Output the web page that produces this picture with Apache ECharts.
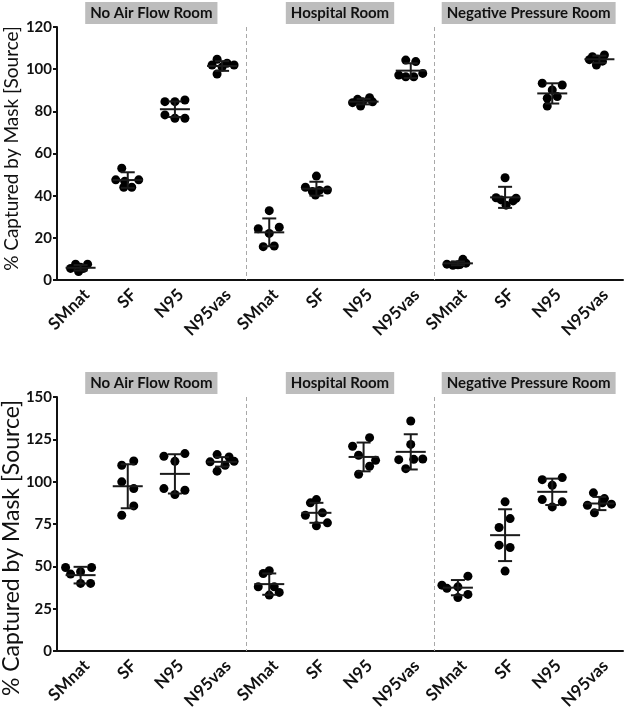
<!DOCTYPE html>
<html><head><meta charset="utf-8">
<script src="https://cdn.jsdelivr.net/npm/echarts@6/dist/echarts.min.js"></script>
<style>html,body{margin:0;padding:0;background:#fff}#c{width:627px;height:711px}</style>
</head><body><div id="c"></div>
<script>
// ---------- data ----------
const masks = ['SMnat', 'SF', 'N95', 'N95vas'];
const rooms = ['No Air Flow Room', 'Hospital Room', 'Negative Pressure Room'];
const categories = rooms.flatMap(() => masks);
const yLabel = '% Captured by Mask [Source]';
const topTicks = { min: 0, max: 120, interval: 20 };
const bottomTicks = { min: 0, max: 150, interval: 25 };

// top panel: individual replicate values per category
const topValues = [
  [5.5, 7.5, 4.0, 5.5, 7.5, 6.0],
  [53.0, 47.5, 46.8, 47.5, 44.0, 44.0],
  [84.6, 84.6, 85.4, 78.3, 76.7, 76.7],
  [102.0, 104.7, 102.8, 102.0, 97.7, 101.0],
  [32.9, 24.3, 25.0, 22.1, 15.8, 16.1],
  [49.3, 44.0, 42.0, 42.5, 42.7, 40.3],
  [85.7, 86.5, 84.6, 84.1, 82.5, 84.5],
  [104.3, 103.6, 97.2, 96.4, 96.4, 98.0],
  [7.5, 7.0, 7.2, 8.0, 9.8, 7.3],
  [48.5, 39.0, 38.0, 35.5, 37.5, 38.8],
  [93.3, 92.5, 90.1, 86.2, 87.0, 82.5],
  [105.9, 106.7, 104.7, 104.5, 102.0, 103.8]
];
const topMean = [5.8, 47.4, 81.0, 101.5, 22.6, 43.3, 84.6, 99.3, 7.9, 39.2, 88.5, 104.7];
const topSD   = [1.3, 3.7, 3.7, 2.3, 6.6, 3.3, 1.3, 3.5, 0.9, 5.0, 4.8, 1.7];

// bottom panel
const bottomValues = [
  [49.3, 49.3, 45.4, 46.8, 39.9, 39.9],
  [112.2, 109.7, 99.9, 95.9, 85.7, 80.2],
  [116.6, 115.0, 112.0, 95.9, 94.9, 92.4],
  [116.0, 114.6, 111.7, 112.0, 109.7, 106.2],
  [47.4, 45.8, 37.9, 37.9, 34.6, 33.0],
  [89.4, 87.5, 80.2, 81.6, 75.7, 73.9],
  [126.0, 120.9, 115.6, 112.6, 109.1, 104.4],
  [135.8, 122.0, 113.0, 113.2, 113.4, 107.7],
  [44.2, 38.9, 37.0, 37.9, 31.6, 33.4],
  [88.1, 78.2, 72.9, 61.1, 62.5, 47.2],
  [101.2, 102.4, 97.9, 89.4, 88.1, 85.1],
  [93.4, 90.0, 86.1, 86.7, 87.5, 81.6]
];
const bottomMean = [44.8, 97.3, 104.6, 111.7, 39.5, 81.6, 114.6, 117.6, 37.4, 68.4, 94.0, 87.1];
const bottomSD   = [4.9, 13.0, 11.6, 2.8, 6.3, 5.9, 8.5, 10.4, 4.5, 15.3, 7.8, 3.9];

// ---------- layout / style (horizontal jitter of dots, px) ----------
const jitterTop = [
  [-10, -5, -2, 3, 7, 0],
  [-6, -12, -3, 11, -4, 4],
  [-10, 0, 10, -10, 0, 10],
  [-10, -5, 5, 12, -5, 0],
  [0, -11, 10, 0, -6, 5],
  [0, -11, -4, 3, 11, -1],
  [-6, 6, -1, -11, -3, 9],
  [-5, 5, -12, -5, 3, 12],
  [-11, -5, 0, 8, 5, 2],
  [0, -9, -4, 1, 8, 11],
  [-10, 10, 0, -5, 5, -5],
  [-7, 5, -2, -10, -3, 3]
];
const jitterBottom = [
  [-15, 11, -10, 0, 0, 10],
  [6, -6, -6, 6, 6, -6],
  [10, -11, 0, -11, 10, 0],
  [-5, 7, -12, 12, 3, -5],
  [0, -6, -11, 5, 10, 0],
  [0, -6, -11, 6, 11, 0],
  [6, -11, -5, 12, 6, -5],
  [0, 0, -12, 3, 12, -5],
  [10, -16, -11, 0, 0, 10],
  [0, 5, -6, 5, -6, 0],
  [-10, 10, 0, -10, 10, 0],
  [-6, 5, -12, 12, 3, -5]
];

const FONT = 'Lato, "Open Sans", sans-serif';
const INK = '#111';

function scatterData(values, jitter) {
  const out = [];
  values.forEach((arr, i) => arr.forEach((v, j) => {
    out.push({ value: [i, v], symbolOffset: [jitter[i][j], 0] });
  }));
  return out;
}
function errData(mean, sd) {
  return mean.map((m, i) => [i, m, sd[i]]);
}
function errRender(params, api) {
  const x = api.value(0), m = api.value(1), s = api.value(2);
  const pm = api.coord([x, m]);
  const pt = api.coord([x, m + s]);
  const pb = api.coord([x, m - s]);
  const st = { stroke: '#1a1a1a', lineWidth: 2 };
  return {
    type: 'group',
    children: [
      { type: 'line', shape: { x1: pm[0] - 15, y1: pm[1], x2: pm[0] + 15, y2: pm[1] }, style: st },
      { type: 'line', shape: { x1: pt[0], y1: pt[1], x2: pb[0], y2: pb[1] }, style: st },
      { type: 'line', shape: { x1: pt[0] - 7, y1: pt[1], x2: pt[0] + 7, y2: pt[1] }, style: st },
      { type: 'line', shape: { x1: pb[0] - 7, y1: pb[1], x2: pb[0] + 7, y2: pb[1] }, style: st }
    ]
  };
}
const groupData = rooms.map((r, k) => [k * masks.length, k * masks.length + masks.length - 1, 0]);
function groupRender(params, api) {
  const a = api.value(0), b = api.value(1);
  const ca = api.coord([a, 0]), cb = api.coord([b, 0]);
  const cs = params.coordSys;
  const cx = (ca[0] + cb[0]) / 2;
  const children = [{
    type: 'text',
    style: {
      text: rooms[params.dataIndex], x: cx, y: cs.y - 3,
      align: 'center', verticalAlign: 'bottom',
      font: 'bold 15px ' + FONT, fill: INK,
      backgroundColor: '#bdbdbd', padding: [4, 5, 3, 5]
    }
  }];
  if (a > 0) {
    const cp = api.coord([a - 1, 0]);
    const sx = Math.round((cp[0] + ca[0]) / 2) + 0.5;
    children.push({
      type: 'line',
      shape: { x1: sx, y1: cs.y, x2: sx, y2: cs.y + cs.height },
      style: { stroke: '#a8a8a8', lineWidth: 1, lineDash: [4, 3] }
    });
  }
  return { type: 'group', children };
}

function xAxis(gi) {
  return {
    type: 'category', gridIndex: gi, data: categories, boundaryGap: true,
    axisLine: { lineStyle: { color: INK, width: 2 } },
    axisTick: { alignWithLabel: true, length: 5, lineStyle: { color: INK, width: 2 } },
    axisLabel: { interval: 0, rotate: 45, margin: 6, verticalAlign: 'top', color: INK, fontWeight: 'bold', fontSize: 17, fontFamily: FONT },
    splitLine: { show: false }
  };
}
function yAxis(gi, t, nameSize, nameGap, namePad) {
  return {
    type: 'value', gridIndex: gi, min: t.min, max: t.max, interval: t.interval,
    name: yLabel, nameLocation: 'middle', nameGap: nameGap, nameMoveOverlap: false,
    nameTextStyle: { fontSize: nameSize, color: INK, fontFamily: FONT, padding: namePad },
    axisLine: { show: true, lineStyle: { color: INK, width: 2 } },
    axisTick: { show: true, length: 4, lineStyle: { color: INK, width: 2 } },
    axisLabel: { margin: 5, color: INK, fontWeight: 'bold', fontSize: 15, fontFamily: FONT },
    splitLine: { show: false }
  };
}

const chart = echarts.init(document.getElementById('c'), null, { renderer: 'canvas' });
chart.setOption({
  animation: false,
  backgroundColor: '#fff',
  grid: [
    { left: 57, right: 4, top: 27, height: 253, containLabel: false, outerBoundsMode: 'none' },
    { left: 57, right: 4, top: 397, height: 254, containLabel: false, outerBoundsMode: 'none' }
  ],
  xAxis: [xAxis(0), xAxis(1)],
  yAxis: [
    yAxis(0, topTicks, 19, 36, [0, 0, 0, 10]),
    yAxis(1, bottomTicks, 23, 34, [0, 48, 0, 0])
  ],
  series: [
    { type: 'custom', xAxisIndex: 0, yAxisIndex: 0, data: groupData, renderItem: groupRender, clip: false, encode: { x: [0, 1], y: 2 }, z: 1, silent: true },
    { type: 'custom', xAxisIndex: 1, yAxisIndex: 1, data: groupData, renderItem: groupRender, clip: false, encode: { x: [0, 1], y: 2 }, z: 1, silent: true },
    { type: 'scatter', xAxisIndex: 0, yAxisIndex: 0, data: scatterData(topValues, jitterTop), symbolSize: 9, itemStyle: { color: '#000', opacity: 1 }, z: 2 },
    { type: 'scatter', xAxisIndex: 1, yAxisIndex: 1, data: scatterData(bottomValues, jitterBottom), symbolSize: 9, itemStyle: { color: '#000', opacity: 1 }, z: 2 },
    { type: 'custom', xAxisIndex: 0, yAxisIndex: 0, data: errData(topMean, topSD), renderItem: errRender, encode: { x: 0, y: 1 }, clip: false, z: 3 },
    { type: 'custom', xAxisIndex: 1, yAxisIndex: 1, data: errData(bottomMean, bottomSD), renderItem: errRender, encode: { x: 0, y: 1 }, clip: false, z: 3 }
  ]
});
</script>
</body></html>
